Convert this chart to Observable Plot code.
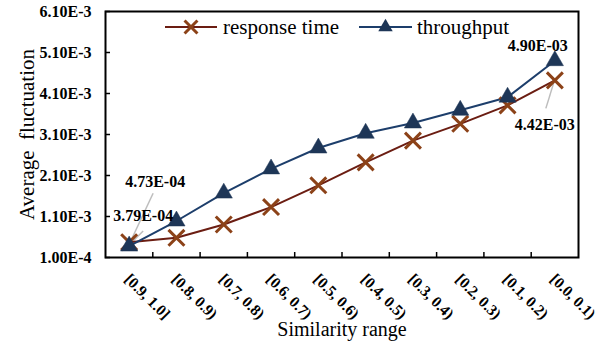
<!DOCTYPE html>
<html>
<head>
<meta charset="utf-8">
<script src="https://cdn.jsdelivr.net/npm/d3@7"></script>
<script src="https://cdn.jsdelivr.net/npm/@observablehq/plot@0.6"></script>
<style>
  html, body { margin: 0; padding: 0; background: #fff; }
  #chart { position: relative; width: 616px; height: 343px; font-family: "Liberation Serif", "Times New Roman", serif; }
  #chart svg { display: block; }
  #legend { position: absolute; left: 0; top: 0; pointer-events: none; }
</style>
</head>
<body>
<div id="chart"></div>
<script>
// ---- data ----
const categories = ["[0.9, 1.0]", "[0.8, 0.9)", "[0.7, 0.8)", "[0.6, 0.7)", "[0.5, 0.6)", "[0.4, 0.5)", "[0.3, 0.4)", "[0.2, 0.3)", "[0.1, 0.2)", "[0.0, 0.1)"];
const responseTime = [4.73e-4, 5.8e-4, 9.05e-4, 1.33e-3, 1.86e-3, 2.42e-3, 2.95e-3, 3.36e-3, 3.81e-3, 4.42e-3];
const throughput = [3.79e-4, 9.9e-4, 1.67e-3, 2.26e-3, 2.77e-3, 3.13e-3, 3.38e-3, 3.69e-3, 4.01e-3, 4.90e-3];
const yTicks = [1e-4, 1.1e-3, 2.1e-3, 3.1e-3, 4.1e-3, 5.1e-3, 6.1e-3];
const yTickLabels = ["1.00E-4", "1.10E-3", "2.10E-3", "3.10E-3", "4.10E-3", "5.10E-3", "6.10E-3"];
const seriesNames = ["response time", "throughput"];
const annotationTexts = ["4.73E-04", "3.79E-04", "4.90E-03", "4.42E-03"];
const xTitle = "Similarity range";
const yTitle = "Average  fluctuation";

// ---- layout / style ----
const W = 616, H = 343;
const mL = 105, mR = 38, mT = 11, mB = 86;
const plotW = W - mL - mR, plotH = H - mT - mB;
const yMin = yTicks[0], yMax = yTicks[yTicks.length - 1];
const stepPx = plotW / categories.length;
const pxX = 1 / stepPx, pxY = (yMax - yMin) / plotH;
const font = "Liberation Serif";
const cResp = "#6B1D12", cRespMark = "#8C4218";
const cThr = "#1D3E6B", cThrMark = "#1E3657";
const cLeader = "#BDBDBD";

const resp = responseTime.map((v, i) => ({i, v}));
const thr = throughput.map((v, i) => ({i, v}));

// annotations: attached to series points
const annos = [
  {src: resp, i: 0, text: annotationTexts[0], dx: 26, dy: -60, lf: [24, -49], lt: [1, 0]},
  {src: thr, i: 0, text: annotationTexts[1], dx: 14, dy: -30, lf: [14, -15], lt: [2, -3]},
  {src: thr, i: 9, text: annotationTexts[2], dx: -17, dy: -15, lf: null},
  {src: resp, i: 9, text: annotationTexts[3], dx: -10, dy: 44, lf: [-9, 28], lt: [-1, 2]}
].map(a => ({...a, x: a.i, y: a.src[a.i].v}));
const leaders = annos.filter(a => a.lf).map(a => ({
  x1: a.x + a.lf[0] * pxX, y1: a.y - a.lf[1] * pxY,
  x2: a.x + a.lt[0] * pxX, y2: a.y - a.lt[1] * pxY
}));

const chart = Plot.plot({
  width: W, height: H,
  marginLeft: mL, marginRight: mR, marginTop: mT, marginBottom: mB,
  style: {fontFamily: font, background: "white", color: "black"},
  x: {type: "linear", domain: [-0.5, categories.length - 0.5], axis: null},
  y: {type: "linear", domain: [yMin, yMax], axis: null},
  marks: [
    // inside tick marks
    Plot.ruleX(d3.range(categories.length - 1), {x: d => d + 0.5, stroke: "black", strokeWidth: 1.5, insetTop: plotH - 5}),
    Plot.ruleY(yTicks, {y: d => d, stroke: "black", strokeWidth: 1.5, insetRight: plotW - 5}),
    // leader lines
    Plot.link(leaders, {x1: "x1", y1: "y1", x2: "x2", y2: "y2", stroke: cLeader, strokeWidth: 1.5}),
    // series
    Plot.line(resp, {x: "i", y: "v", stroke: cResp, strokeWidth: 2}),
    Plot.line(thr, {x: "i", y: "v", stroke: cThr, strokeWidth: 2}),
    Plot.dot(resp, {x: "i", y: "v", symbol: "times", r: 7.3, stroke: cRespMark, strokeWidth: 3}),
    Plot.dot(thr, {x: "i", y: "v", symbol: "triangle", r: 6.4, fill: cThrMark, stroke: cThrMark, strokeWidth: 0.5}),
    // annotations
    ...annos.map(a => Plot.text([a], {x: "x", y: "y", text: "text", dx: a.dx, dy: a.dy, fontSize: 16, fontWeight: "bold", fill: "black"})),
    // y tick labels
    Plot.text(yTicks, {frameAnchor: "left", y: d => d, text: (d, i) => yTickLabels[i], textAnchor: "end", dx: -14, fontSize: 16, fontWeight: "bold", fill: "black"}),
    // x tick labels
    Plot.text(categories, {x: (d, i) => i, y: () => yMin, text: d => d, rotate: 45, textAnchor: "start", dx: -2, dy: 19, fontSize: 15.5, fontWeight: "bold", fill: "black"}),
    // axis titles
    Plot.text([xTitle], {frameAnchor: "bottom", text: d => d, textAnchor: "middle", dy: 78, fontSize: 20, fill: "black"}),
    Plot.text([yTitle], {frameAnchor: "left", text: d => d, textAnchor: "middle", rotate: -90, dx: -78, fontSize: 21, fill: "black"}),
    Plot.frame({stroke: "black", strokeWidth: 2})
  ]
});
const root = document.getElementById("chart");
root.appendChild(chart);

// legend overlay (inside plot area, top)
const leg = d3.select(root).append("svg").attr("id", "legend").attr("width", W).attr("height", 50);
const legItems = [
  {name: seriesNames[0], x0: 165, x1: 217, line: cResp, mark: "times", color: cRespMark, tx: 223},
  {name: seriesNames[1], x0: 359, x1: 412, line: cThr, mark: "triangle", color: cThrMark, tx: 417}
];
const ly = 27;
for (const it of legItems) {
  leg.append("line").attr("x1", it.x0).attr("x2", it.x1).attr("y1", ly).attr("y2", ly).attr("stroke", it.line).attr("stroke-width", 2);
  const cx = (it.x0 + it.x1) / 2;
  if (it.mark === "times") {
    leg.append("path").attr("d", d3.symbol(d3.symbolTimes, 110)()).attr("transform", `translate(${cx},${ly})`).attr("stroke", it.color).attr("stroke-width", 3).attr("fill", "none");
  } else {
    leg.append("path").attr("d", d3.symbol(d3.symbolTriangle, 90)()).attr("transform", `translate(${cx},${ly})`).attr("fill", it.color);
  }
  leg.append("text").attr("x", it.tx).attr("y", ly + 7).attr("font-family", font).attr("font-size", 21).attr("fill", "black").text(it.name);
}
</script>
</body>
</html>
